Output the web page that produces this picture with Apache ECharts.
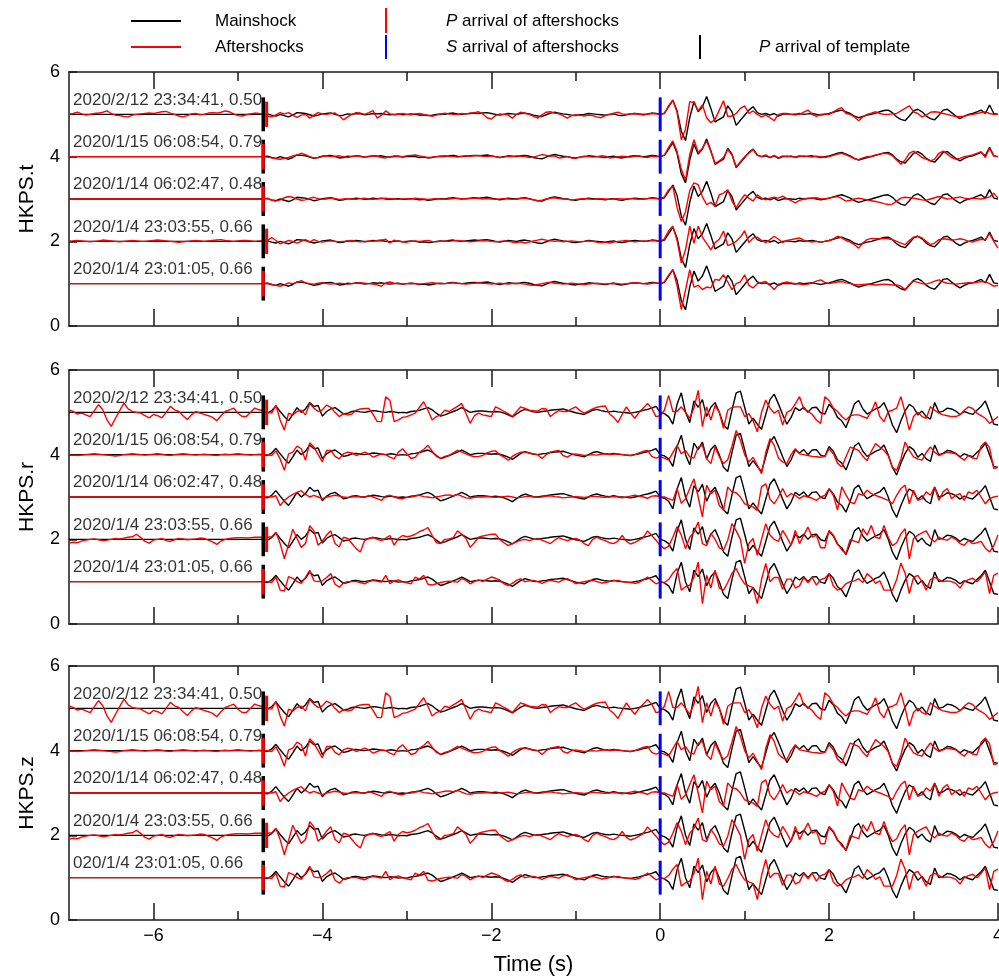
<!DOCTYPE html>
<html>
<head>
<meta charset="utf-8">
<title>HKPS waveforms</title>
<script src="https://cdn.jsdelivr.net/npm/echarts/dist/echarts.min.js"></script>
<style>
  html, body { margin: 0; padding: 0; background: #fff; }
  #chart { width: 999px; height: 977px; }
</style>
</head>
<body>
<div id="chart"></div>
<script>
// ---- time base (s) ----
const T_START = -7;     // start of plotted window
const T_P = -4.7;       // first sample of the coda arrays
const T_S = 0;          // first sample of the S-window arrays
const DT = 0.05;        // sample step
const X_MIN = -7, X_MAX = 4;

// ---- tick labels ----
const xMajorTicks = [-6, -4, -2, 0, 2, 4];
const xMinorTicks = [-5, -3, -1, 1, 3];
const stationNames = ['HKPS.t', 'HKPS.r', 'HKPS.z'];

// ---- events (top to bottom) ----
const eventLabels = ['2020/2/12 23:34:41, 0.50', '2020/1/15 06:08:54, 0.79', '2020/1/14 06:02:47, 0.48', '2020/1/4 23:03:55, 0.66', '2020/1/4 23:01:05, 0.66'];
const eventLabelsZ = ['2020/2/12 23:34:41, 0.50', '2020/1/15 06:08:54, 0.79', '2020/1/14 06:02:47, 0.48', '2020/1/4 23:03:55, 0.66', '020/1/4 23:01:05, 0.66'];
const baselines = [5, 4, 3, 2, 1];
const pTemplate = [-4.7, -4.7, -4.7, -4.7, -4.7];
const pAfter = [-4.66, -4.7, -4.7, -4.66, -4.7];
const sAfter = [0, 0, 0, 0, 0];

// ---- amplitudes, in hundredths of a y unit ----
// *_N : pre-event noise from T_START, *_P : from T_P, *_S : from T_S

// transverse component, mainshock template
const mainT_P = [0,1,-2,-4,0,-3,-6,-2,4,3,2,-1,-4,-2,1,2,3,0,-3,-2,1,0,2,1,-1,0,2,1,2,0,-1,0,1,-1,0,1,0,-2,-1,-3,-2,0,1,0,2,3,1,0,1,2,3,2,3,4,2,0,-2,0,2,1,0,2,3,1,-2,-4,-5,-1,3,5,3,1,0,-2,-3,-1,0,2,1,0,-1,-2,0,1,-2,-3,-1,1,2,1,0,1,3,2];
const mainT_S = [0,3,18,33,8,-40,-62,-8,30,6,18,42,14,-18,-12,-6,20,6,-26,-14,-2,10,18,4,0,2,-2,2,-4,0,1,0,-1,2,0,1,2,0,-2,0,2,5,8,10,6,2,-4,-8,-5,-2,0,3,6,9,10,4,-6,-12,-15,-4,8,12,6,-4,-10,-13,-2,10,12,4,-4,-10,-4,0,2,6,10,2,22,2,0];

// transverse component, aftershocks
const aftT1_N = [0,2,5,1,-2,0,2,3,5,8,2,-2,-3,-5,-6,-2,0,1,2,3,2,4,6,7,3,0,-4,-6,-3,1,2,-1,0,3,4,3,5,8,6,1,-3,-4,-1,1,3,2];
const aftT1_P = [0,-4,-6,-1,4,1,4,-2,-7,-2,0,-9,-2,4,1,0,2,3,-4,-13,-6,0,4,3,0,4,9,-9,-2,8,1,-1,0,2,0,-1,1,2,0,-2,-5,-2,1,3,1,0,0,2,1,3,4,6,1,-8,-11,-3,1,0,-2,-9,0,5,2,0,-5,-9,-1,5,6,3,1,-3,-9,-3,-1,-2,-4,-2,-3,-6,-8,-3,0,3,5,1,0,1,2,0,-2,0,2,1];
const aftT1_S = [0,2,20,34,5,-60,-35,30,28,8,22,-8,-20,-12,10,32,-5,-4,2,14,20,2,8,0,-6,-2,-8,-15,0,2,2,0,1,0,5,10,0,-5,0,1,0,6,12,16,2,0,-6,-15,-6,0,3,6,2,0,0,1,2,8,14,20,6,2,-6,-2,5,6,5,2,0,-3,-5,-5,-5,-2,0,2,4,6,2,0,0];
const aftT2_P = [0,-1,-3,-5,-6,-4,-2,2,4,8,5,0,-3,-2,1,2,0,1,2,0,-2,1,2,0,-1,1,2,1,-2,-3,0,2,1,0,2,3,4,2,0,-2,-1,0,1,2,1,0,-1,1,2,1,2,3,1,0,2,0,-2,-1,1,0,2,1,0,-2,-1,2,5,3,1,2,-3,-2,0,-3,-4,-1,1,0,-1,0,2,1,-3,-2,0,1,0,-1,1,2,-1,-2,1,0];
const aftT2_S = [0,4,22,37,12,-30,-55,5,40,10,20,37,12,-16,-10,-2,17,4,-24,-12,0,8,17,3,0,4,-2,3,-3,2,0,2,-2,0,2,0,-1,1,0,-2,0,3,6,8,4,0,-5,-7,-3,0,1,4,6,8,7,2,-8,-18,-8,8,13,6,-2,-6,-10,-6,8,13,6,-2,-6,-4,0,2,4,8,12,-2,20,2,0];
const aftT3_P = [0,2,-3,-5,-2,3,6,4,0,-3,-2,2,4,1,-1,0,2,1,-1,0,1,0,-1,1,2,0,-1,0,1,2,1,0,-1,0,1,0,2,1,0,-1,0,1,0,-1,0,1,2,1,0,1,2,1,0,1,0,-1,0,1,0,-1,0,1,2,0,-2,-4,-3,0,2,3,1,0,-1,-2,-1,0,1,0,-1,0,1,0,-1,0,1,0,0,1,0,-1,0,1,2,1];
const aftT3_S = [0,5,22,30,-20,-53,-30,20,38,34,5,-13,-8,-17,10,14,22,-5,-21,-4,10,2,-5,10,2,-2,2,4,2,7,1,-4,-9,-3,0,2,2,3,1,0,2,4,6,1,-5,-3,0,2,0,-2,-4,-6,-8,-11,-13,-12,-5,2,4,3,2,0,-2,-3,0,3,6,3,0,1,3,5,2,0,2,1,0,2,5,14,2];
const aftT4_N = [0,1,2,1,0,-1,0,1,3,2,1,0,-1,0,1,2,1,0,0,1,2,3,2,1,0,-1,-2,-1,0,1,2,1,0,1,2,3,4,2,1,0,1,2,2,1,0,1];
const aftT4_P = [1,2,9,2,-6,-2,2,0,-4,0,4,-2,4,0,-2,0,1,0,-1,0,1,2,0,-1,0,1,0,2,3,5,-4,3,0,-1,-2,0,1,0,1,2,0,-1,0,1,0,1,2,1,0,-1,0,1,2,1,0,-1,0,1,0,-2,-3,-1,-4,-2,1,3,5,3,1,0,1,-1,0,1,0,-1,0,1,0,-2,-3,-2,-4,-2,0,1,2,0,-1,0,1,0,2,1];
const aftT4_S = [0,6,25,36,2,-51,-20,36,-5,36,10,-5,-20,-3,5,24,-10,-6,0,10,25,-3,8,10,2,-3,4,12,5,-3,2,4,6,8,3,0,-2,0,-2,0,2,6,12,8,2,-2,-8,-16,-4,4,7,6,6,7,6,4,0,-4,-8,2,10,12,8,0,-8,-4,4,6,5,3,4,6,4,0,-2,2,5,4,18,0,-16];
const aftT5_P = [0,1,-2,-4,-6,-3,2,0,3,7,2,0,-1,1,2,0,-1,0,1,0,-1,0,1,2,1,0,-1,-3,-6,2,4,1,0,-1,0,1,0,-1,0,1,2,1,0,0,1,2,1,0,-1,0,1,2,1,0,-1,0,1,0,-1,0,1,0,-1,-3,-4,-2,0,2,3,1,0,-1,0,1,0,-1,-2,-1,0,1,0,-1,0,1,0,-1,0,1,2,1,0,-1,1,2];
const aftT5_S = [0,4,20,33,-5,-61,-15,33,-8,-4,-14,-8,-10,10,8,21,4,-14,0,4,21,-4,-10,0,3,5,-4,-14,-2,2,4,2,0,-1,-2,-1,2,6,9,3,0,2,4,5,2,0,-2,-3,-2,-1,-2,-3,-2,-1,-2,-3,-3,-6,-14,-2,6,3,0,-1,2,6,9,4,1,0,-1,0,1,2,2,3,5,4,0,-6,-4];

// radial / vertical components (both panels plot these records), mainshock template
const mainR_P = [0,-2,4,15,2,-10,-20,-5,11,0,8,23,14,16,-9,2,8,11,4,-4,-2,2,3,1,0,2,4,3,1,0,2,1,-1,0,-1,2,3,5,8,11,6,-2,-9,-6,-2,2,6,11,6,0,2,3,3,2,1,2,1,-2,-6,-11,-4,3,7,4,1,0,2,3,5,6,7,8,5,2,-1,-3,-5,0,5,7,4,2,1,3,1,0,-1,-2,0,2,5,7,10,14];
const mainR_S = [0,-3,-10,-28,19,46,0,-24,27,12,30,-10,12,23,0,-30,-40,5,46,50,12,-28,-14,-28,-40,-5,30,43,20,-5,-28,-12,11,4,12,0,11,12,-1,-4,19,8,-12,-20,-36,-10,20,28,8,-4,2,8,12,23,0,-30,-48,-20,3,19,12,-6,3,-10,-16,23,0,3,10,8,3,-5,2,-2,-5,5,14,27,0,-28,-30];

// radial / vertical components, aftershocks
const aftR1_N = [6,2,-4,-2,-6,-10,4,18,6,-18,-33,-14,4,22,8,2,0,-2,-8,-13,-5,-8,-13,0,14,6,2,-8,-17,-6,2,-2,-5,-8,-12,-20,-8,2,6,10,-2,-10,-10,0,10,6];
const aftR1_P = [4,0,-2,17,-18,-42,-2,-6,2,5,-6,21,10,2,6,17,12,0,-10,-3,-6,-4,5,8,9,9,-5,-22,-22,37,28,-22,-18,-12,-10,-6,-2,12,25,5,-18,-10,-6,5,2,8,14,21,-2,-26,-8,-2,-6,-8,-10,13,8,2,-3,-10,2,13,9,5,4,3,9,8,-10,-2,4,2,2,8,13,4,-2,3,8,12,14,15,-4,-12,-24,-5,13,-2,-14,0,10,21,10,-10];
const aftR1_S = [-8,5,40,2,2,13,0,-14,10,52,-34,13,-18,16,0,-38,5,12,13,13,-10,-3,-20,-46,0,29,10,-2,5,-30,0,5,20,37,8,3,-5,-18,-26,37,28,10,2,-10,-18,-8,-6,-6,-10,-14,2,25,-10,-22,2,5,10,37,0,-42,-10,0,-10,-14,13,5,-2,-6,-8,-10,-10,-6,5,13,9,-2,-8,-14,-26,-18,-10];
const aftR2_N = [0,-1,-2,-1,0,1,2,1,0,-1,-2,-3,-2,0,1,2,1,0,-1,0,1,2,1,-1,-2,0,1,2,1,0,-1,0,1,0,-1,-2,0,1,0,1,2,1,0,-1,0,1];
const aftR2_P = [0,0,-2,9,-10,-37,2,6,20,14,-13,28,18,0,-17,10,10,-4,-10,2,6,4,-2,2,6,2,-6,-2,2,0,-6,-10,6,14,2,-9,-6,6,12,22,8,-4,-9,-4,-2,4,10,6,2,-2,-5,-4,-2,4,8,9,0,-6,-13,-4,2,6,6,4,2,0,-9,0,6,8,10,-2,-6,0,2,0,-2,-1,0,-1,1,2,0,1,2,0,-1,-2,0,4,8,10,-4,-8];
const aftR2_S = [-5,-8,-13,5,22,2,10,-5,-8,18,22,-10,-21,18,-5,-21,-12,20,57,34,0,-17,-6,-25,-45,5,38,22,-8,-17,-21,0,14,2,0,-2,-4,-5,-6,-4,14,2,-20,-29,-5,18,14,10,-4,-14,8,26,18,10,-2,-30,-37,-10,30,10,-5,-10,-13,5,18,6,-2,2,6,4,2,-6,-13,-2,-8,-10,20,30,16,-33,-30];
const aftR3_P = [0,1,0,3,-20,-8,0,6,11,15,6,0,4,0,-4,0,2,4,2,0,-1,0,1,0,-1,4,0,-4,-8,2,4,0,-3,-4,-1,0,2,4,1,0,-2,0,2,4,5,3,6,2,-2,-3,-1,0,0,1,0,-1,0,1,2,0,-2,-1,1,2,0,-1,0,2,3,1,0,-2,-1,0,1,0,-1,0,2,1,0,-1,0,1,0,-2,0,2,4,2,0,-3,2,3];
const aftR3_S = [0,0,-4,-8,20,-15,-4,20,43,0,-47,28,8,16,-20,-31,24,12,10,0,-16,-20,-24,-32,24,31,-5,-16,0,20,0,8,4,-4,3,0,-3,-8,0,4,20,4,-31,24,5,-12,-16,8,4,16,8,4,0,-4,-8,-16,4,20,28,-16,16,-8,-4,12,4,24,-8,12,20,-4,4,8,-8,12,8,16,0,-16,-4,0,2];
const aftR4_N = [-9,-7,-8,-4,-2,0,1,-1,-3,-2,0,2,1,3,5,6,12,4,-5,-9,-2,0,2,-3,-5,-1,2,1,-1,0,1,3,2,-2,-6,-12,-4,0,2,3,4,4,3,4,5,5];
const aftR4_P = [5,5,6,17,-10,-46,-12,24,2,-19,-10,32,20,-14,-4,10,20,-10,-18,5,2,-10,-22,-30,-3,2,5,0,-3,3,9,-14,2,9,6,8,12,18,22,28,9,-8,-10,0,1,4,20,12,2,-19,-8,5,8,10,12,12,0,-8,-15,-10,-6,-2,0,-3,0,2,-2,-6,-10,-2,4,0,-3,0,2,-2,-10,-15,0,5,0,-3,-8,-10,-4,9,-5,-11,-7,-2,4,20,9,-2];
const aftR4_S = [-15,-22,-16,5,30,10,-22,5,17,41,-10,-15,14,0,-20,-25,-2,37,20,0,-57,-10,2,-38,0,37,10,0,-5,21,5,-14,21,-10,10,29,5,10,-20,-20,21,10,-10,-25,-34,0,-4,-8,25,10,33,5,2,33,5,-15,-8,13,25,-46,2,10,15,20,2,-6,5,0,-2,5,0,-10,-14,-3,-10,-8,-5,-21,-30,-15,10];
const aftR5_P = [0,0,-2,11,-20,-22,12,8,0,-4,10,27,2,0,2,10,19,-6,-13,-3,0,0,0,-2,-5,0,3,1,-1,15,-5,2,4,0,-3,-5,11,6,15,-6,-8,-5,-2,0,1,0,-1,7,3,-5,0,4,0,6,11,8,4,-5,-9,-4,3,7,0,2,3,0,-4,0,3,1,-1,4,7,2,-5,-2,0,2,3,0,-3,-2,0,2,3,0,-1,-2,-4,-2,4,11,3,-5];
const aftR5_S = [-1,-2,5,20,31,-20,-12,-8,10,46,-52,15,-15,27,-15,-20,-2,20,31,10,-5,-10,-14,-52,5,43,0,10,10,-18,6,6,-15,-10,10,-3,10,-8,5,8,19,-10,-20,-16,-5,0,2,7,-2,19,10,-4,2,-20,-20,-20,5,44,20,-28,10,15,0,-20,5,10,5,0,2,0,-4,-15,0,5,8,0,10,23,-28,15,20];

// ---- assemble panels from the arrays above ----
const afterT = [[aftT1_N, aftT1_P, aftT1_S], [null, aftT2_P, aftT2_S], [null, aftT3_P, aftT3_S], [aftT4_N, aftT4_P, aftT4_S], [null, aftT5_P, aftT5_S]];
const afterR = [[aftR1_N, aftR1_P, aftR1_S], [aftR2_N, aftR2_P, aftR2_S], [null, aftR3_P, aftR3_S], [aftR4_N, aftR4_P, aftR4_S], [null, aftR5_P, aftR5_S]];
const panels = [
  { main: [mainT_P, mainT_S], after: afterT, labels: eventLabels },
  { main: [mainR_P, mainR_S], after: afterR, labels: eventLabels },
  { main: [mainR_P, mainR_S], after: afterR, labels: eventLabelsZ }
];

const r2 = v => Math.round(v * 1000) / 1000;
function buildTrace(base, noise, coda, sWin) {
  const pts = [];
  if (noise) noise.forEach((v, i) => pts.push([r2(T_START + i * DT), base + v / 100]));
  else pts.push([T_START, base]);
  coda.forEach((v, i) => pts.push([r2(T_P + i * DT), base + v / 100]));
  sWin.forEach((v, i) => pts.push([r2(T_S + i * DT), base + v / 100]));
  return pts;
}

// ---- layout / style ----
const FONT = '"Liberation Sans", Arial, Helvetica, sans-serif';
const GRID_TOPS = [72, 370, 666];
const GRID_H = 254;
const AXIS_COLOR = '#1a1a1a';
const lineStyleAxis = { color: AXIS_COLOR, width: 1.5 };
const fmtTick = v => (v < 0 ? '\u2212' + (-v) : String(v));

const grid = GRID_TOPS.map(top => ({ left: 69, right: 1, top: top, height: GRID_H, outerBoundsMode: 'none', containLabel: false }));

const xAxis = [];
const yAxis = [];
panels.forEach((p, gi) => {
  const last = gi === panels.length - 1;
  const common = { type: 'value', gridIndex: gi, min: X_MIN, max: X_MAX, splitLine: { show: false } };
  // bottom, major ticks (series axis)
  xAxis.push(Object.assign({}, common, {
    position: 'bottom',
    axisLine: { show: true, onZero: false, lineStyle: lineStyleAxis },
    axisTick: { show: true, inside: true, length: 17, customValues: xMajorTicks, lineStyle: lineStyleAxis },
    axisLabel: { show: last, customValues: xMajorTicks, formatter: fmtTick, color: '#000', fontSize: 18, fontFamily: FONT, margin: 7 },
    name: last ? 'Time (s)' : '', nameLocation: 'middle', nameGap: 34,
    nameTextStyle: { color: '#000', fontSize: 22, fontFamily: FONT }
  }));
  // bottom, minor ticks
  xAxis.push(Object.assign({}, common, {
    position: 'bottom',
    axisLine: { show: false, onZero: false },
    axisTick: { show: true, inside: true, length: 9, customValues: xMinorTicks, lineStyle: lineStyleAxis },
    axisLabel: { show: false }
  }));
  // top frame, major ticks
  xAxis.push(Object.assign({}, common, {
    position: 'top',
    axisLine: { show: true, onZero: false, lineStyle: lineStyleAxis },
    axisTick: { show: true, inside: true, length: 17, customValues: xMajorTicks, lineStyle: lineStyleAxis },
    axisLabel: { show: false }
  }));
  // top frame, minor ticks
  xAxis.push(Object.assign({}, common, {
    position: 'top',
    axisLine: { show: false, onZero: false },
    axisTick: { show: true, inside: true, length: 9, customValues: xMinorTicks, lineStyle: lineStyleAxis },
    axisLabel: { show: false }
  }));
  yAxis.push({
    type: 'value', gridIndex: gi, min: 0, max: 6, interval: 2,
    axisLine: { show: true, onZero: false, lineStyle: lineStyleAxis },
    axisTick: { show: true, inside: true, length: 8, lineStyle: lineStyleAxis },
    axisLabel: { color: '#000', fontSize: 18, fontFamily: FONT, margin: 9 },
    splitLine: { show: false },
    name: stationNames[gi], nameLocation: 'middle', nameGap: 31,
    nameTextStyle: { color: '#000', fontSize: 21, fontFamily: FONT }
  });
});

function barSeries(name, gi, xs, half, color, width, z) {
  return {
    name: name, type: 'custom', xAxisIndex: gi * 4, yAxisIndex: gi, z: z, silent: true,
    data: xs.map((x, r) => [x, baselines[r]]),
    renderItem: (params, api) => {
      const x = api.value(0), y = api.value(1);
      const a = api.coord([x, y + half]);
      const b = api.coord([x, y - half]);
      return { type: 'line', shape: { x1: a[0], y1: a[1], x2: b[0], y2: b[1] }, style: { stroke: color, lineWidth: width } };
    }
  };
}

const series = [];
panels.forEach((p, gi) => {
  baselines.forEach((base, r) => {
    series.push({
      name: 'Mainshock', type: 'line', xAxisIndex: gi * 4, yAxisIndex: gi, z: 2, silent: true,
      showSymbol: false, symbol: 'none', lineStyle: { color: '#000', width: 1.4 },
      data: buildTrace(base, null, p.main[0], p.main[1])
    });
  });
  baselines.forEach((base, r) => {
    const a = p.after[r];
    series.push({
      name: 'Aftershocks', type: 'line', xAxisIndex: gi * 4, yAxisIndex: gi, z: 3, silent: true,
      showSymbol: false, symbol: 'none', lineStyle: { color: '#ff0000', width: 1.4 },
      data: buildTrace(base, a[0], a[1], a[2])
    });
  });
  series.push(barSeries('P arrival of template', gi, pTemplate, 0.4, '#000', 3.5, 4));
  series.push(barSeries('P arrival of aftershocks', gi, pAfter, 0.3, '#ff0000', 3, 5));
  series.push(barSeries('S arrival of aftershocks', gi, sAfter, 0.4, '#0000ff', 3, 6));
  series.push({
    type: 'scatter', xAxisIndex: gi * 4, yAxisIndex: gi, z: 7, silent: true,
    symbolSize: 1, itemStyle: { color: 'transparent' },
    data: baselines.map((base, r) => [-6.97, base + 0.34, p.labels[r]]),
    label: {
      show: true, position: 'right', distance: 1, formatter: d => d.value[2],
      color: '#000', fontSize: 17, fontFamily: FONT
    }
  });
});

// key at the top of the figure
const keyText = (x, y, text) => ({
  type: 'text', x: x, y: y, silent: true,
  style: {
    text: text, fill: '#000', fontSize: 17, fontFamily: FONT, verticalAlign: 'middle', align: 'left',
    rich: { i: { fontStyle: 'italic', fontSize: 17, fontFamily: FONT, fill: '#000' } }
  }
});
const keyLine = (x1, y1, x2, y2, color) => ({
  type: 'line', silent: true, shape: { x1: x1, y1: y1, x2: x2, y2: y2 }, style: { stroke: color, lineWidth: 2 }
});
const graphic = [
  keyLine(131, 21, 181, 21, '#000'), keyText(215, 21, 'Mainshock'),
  keyLine(131, 47, 181, 47, '#ff0000'), keyText(215, 47, 'Aftershocks'),
  keyLine(386, 8, 386, 33, '#ff0000'), keyText(446, 21, '{i|P} arrival of aftershocks'),
  keyLine(386, 35, 386, 59, '#0000ff'), keyText(446, 47, '{i|S} arrival of aftershocks'),
  keyLine(700, 35, 700, 59, '#000'), keyText(759, 47, '{i|P} arrival of template')
];

const chart = echarts.init(document.getElementById('chart'), null, { renderer: 'canvas' });
chart.setOption({
  animation: false,
  backgroundColor: '#fff',
  textStyle: { fontFamily: FONT },
  grid: grid,
  xAxis: xAxis,
  yAxis: yAxis,
  series: series,
  graphic: graphic
});
</script>
</body>
</html>
